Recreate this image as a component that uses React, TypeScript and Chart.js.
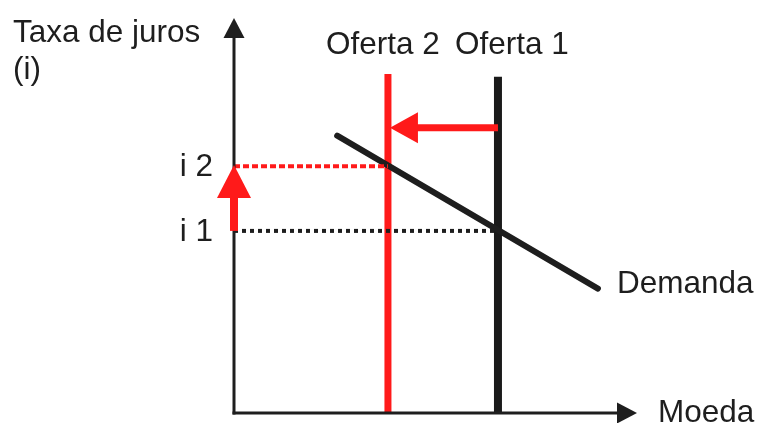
import React, { useEffect, useRef } from "react";
import { Chart, registerables } from "chart.js";
Chart.register(...registerables);

// ---- data (model units: Moeda on x, Taxa de juros on y) ----
const xAxisLabel = "Moeda";
const yAxisLabel = ["Taxa de juros", "(i)"];
const axisMax = [10, 10];
const supplyLabels = ["Oferta 2", "Oferta 1"];
const supplyX = [3.82, 6.55];
const supplyTop = [8.58, 8.51];
const supplyColors = ["#ff1a1a", "#1a1a1a"];
const rateLabels = ["i 2", "i 1"];
const rateY = [6.25, 4.61];
const demandLabel = "Demanda";
const demandX = [2.56, 9.03];
const demandY = [7.02, 3.15];
const shiftArrowY = 7.22;
const shiftArrowX = [6.55, 3.87];
const rateArrowY = [4.61, 6.28];

const RED = "#ff1a1a";
const INK = "#1e1e1e";
const FONT = '31.5px "Liberation Sans", Arial, sans-serif';

function arrow(ctx: CanvasRenderingContext2D, x1: number, y1: number, x2: number, y2: number, shaft: number, headLen: number, headW: number, color: string) {
  const dx = x2 - x1, dy = y2 - y1;
  const len = Math.hypot(dx, dy);
  const ux = dx / len, uy = dy / len;
  const bx = x2 - ux * headLen, by = y2 - uy * headLen;
  ctx.save();
  ctx.strokeStyle = color;
  ctx.fillStyle = color;
  ctx.lineWidth = shaft;
  ctx.lineCap = "butt";
  ctx.beginPath();
  ctx.moveTo(x1, y1);
  ctx.lineTo(bx + ux * 1, by + uy * 1);
  ctx.stroke();
  ctx.beginPath();
  ctx.moveTo(x2, y2);
  ctx.lineTo(bx - uy * headW / 2, by + ux * headW / 2);
  ctx.lineTo(bx + uy * headW / 2, by - ux * headW / 2);
  ctx.closePath();
  ctx.fill();
  ctx.restore();
}

const diagramPlugin = {
  id: "diagram",
  afterDatasetsDraw(chart: any) {
    const ctx: CanvasRenderingContext2D = chart.ctx;
    const xs = chart.scales.x, ys = chart.scales.y;
    const X = (v: number) => xs.getPixelForValue(v);
    const Y = (v: number) => ys.getPixelForValue(v);
    // axes
    arrow(ctx, X(0), Y(0) + 1.5, X(0), Y(axisMax[1]), 3, 20, 21, INK);
    arrow(ctx, X(0) - 1.5, Y(0), X(axisMax[0]), Y(0), 3, 20, 21, INK);
    // shift arrows
    arrow(ctx, X(shiftArrowX[0]), Y(shiftArrowY), X(shiftArrowX[1]), Y(shiftArrowY), 7, 28, 31, RED);
    arrow(ctx, X(0), Y(rateArrowY[0]), X(0), Y(rateArrowY[1]), 8, 33, 34, RED);
    // texts
    ctx.save();
    ctx.font = FONT;
    ctx.fillStyle = INK;
    ctx.textBaseline = "alphabetic";
    ctx.textAlign = "left";
    ctx.fillText(yAxisLabel[0], 13, Y(axisMax[1]) + 24);
    ctx.fillText(yAxisLabel[1], 13, Y(axisMax[1]) + 61);
    ctx.fillText(supplyLabels[0], X(supplyX[0]) - 62, 54);
    ctx.fillText(supplyLabels[1], X(supplyX[1]) - 43, 54);
    ctx.fillText(demandLabel, X(demandX[1]) + 19, Y(demandY[1]) + 4);
    ctx.fillText(xAxisLabel, X(axisMax[0]) + 21, Y(0) + 9);
    ctx.textAlign = "right";
    ctx.fillText(rateLabels[0], X(0) - 21, Y(rateY[0]) + 10);
    ctx.fillText(rateLabels[1], X(0) - 21, Y(rateY[1]) + 10);
    ctx.restore();
  },
};

export default function App() {
  const ref = useRef<HTMLCanvasElement | null>(null);
  useEffect(() => {
    if (!ref.current) return;
    const seg = (x1: number, y1: number, x2: number, y2: number) => [
      { x: x1, y: y1 },
      { x: x2, y: y2 },
    ];
    const datasets: any[] = [
      {
        data: seg(0, rateY[0], supplyX[0], rateY[0]),
        borderColor: RED, borderWidth: 4, borderDash: [6, 3],
      },
      {
        data: seg(0, rateY[1], supplyX[1], rateY[1]),
        borderColor: INK, borderWidth: 4, borderDash: [4, 4],
      },
      {
        data: seg(demandX[0], demandY[0], demandX[1], demandY[1]),
        borderColor: INK, borderWidth: 6, borderCapStyle: "round",
      },
      ...supplyX.map((sx, i) => ({
        data: seg(sx, 0, sx, supplyTop[i]),
        borderColor: supplyColors[i], borderWidth: i === 0 ? 7 : 8,
        borderCapStyle: "butt",
      })),
    ].map((d) => ({ ...d, showLine: true, pointRadius: 0, fill: false, tension: 0 }));
    const chart = new Chart(ref.current, {
      type: "scatter",
      data: { datasets },
      options: {
        responsive: false,
        animation: false,
        layout: { padding: { left: 234, right: 120, top: 18, bottom: 10 } },
        plugins: { legend: { display: false }, tooltip: { enabled: false } },
        scales: {
          x: { type: "linear", min: 0, max: axisMax[0], display: false },
          y: { type: "linear", min: 0, max: axisMax[1], display: false },
        },
      },
      plugins: [diagramPlugin],
    });
    return () => chart.destroy();
  }, []);
  return (
    <div style={{ position: "absolute", left: 0, top: 0, width: 757, height: 423, background: "#fff" }}>
      <canvas ref={ref} width={757} height={423} style={{ width: 757, height: 423 }} />
    </div>
  );
}
